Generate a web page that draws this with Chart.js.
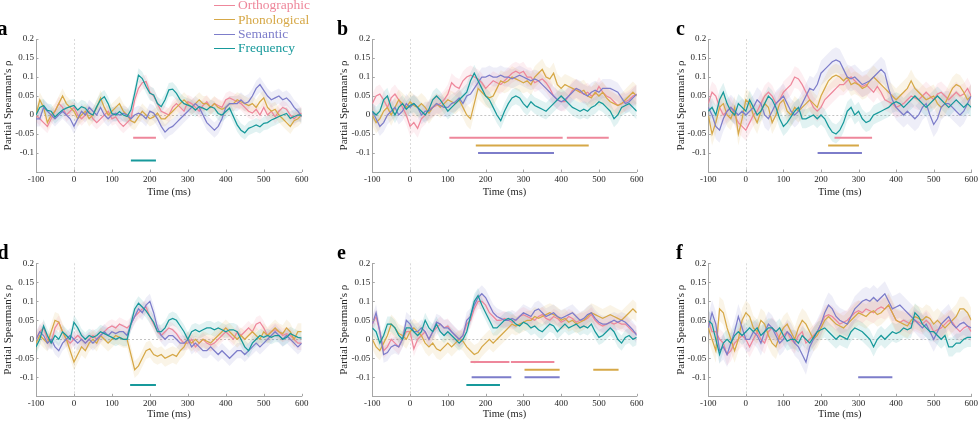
<!DOCTYPE html>
<html>
<head>
<meta charset="utf-8">
<script src="https://cdn.jsdelivr.net/npm/chart.js"></script>
<style>
  html,body{margin:0;padding:0;background:#fff;}
  #fig{position:relative;width:980px;height:422px;overflow:hidden;font-family:"Liberation Serif","DejaVu Serif",serif;}
  canvas{position:absolute;}
  .lbl{position:absolute;font-weight:bold;font-size:20px;line-height:20px;color:#000;}
  .legline{position:absolute;height:1.2px;width:21px;}
  .legtxt{position:absolute;font-size:13.5px;line-height:14px;white-space:nowrap;}
</style>
</head>
<body>
<div id="fig"></div>
<script>
// ---------------- DATA ----------------
const times = [-100,-90,-80,-70,-60,-50,-40,-30,-20,-10,
  0,10,20,30,40,50,60,70,80,90,
  100,110,120,130,140,150,160,170,180,190,
  200,210,220,230,240,250,260,270,280,290,
  300,310,320,330,340,350,360,370,380,390,
  400,410,420,430,440,450,460,470,480,490,
  500,510,520,530,540,550,560,570,580,590,
  600];
const seriesNames = ['Orthographic','Phonological','Semantic','Frequency'];
const seriesColors = ['#EE879B','#D6A847','#7D7DCA','#17999B'];
const xTicks = [-100,0,100,200,300,400,500,600];
const yTicks = [-0.1,-0.05,0,0.05,0.1,0.15,0.2];
const yTickLabels = ['-0.1','-0.05','0','0.05','0.1','0.15','0.2'];
const panelLetters = ['a','b','c','d','e','f'];

// Panel a
const aOrth = [0.0,-0.01,-0.02,-0.03,-0.01,0.01,0.03,0.02,0.0,0.01,
  0.02,0.0,-0.01,0.0,0.01,-0.01,-0.02,-0.01,0.0,0.01,
  -0.01,-0.005,-0.02,-0.03,-0.02,-0.01,0.04,0.07,0.085,0.088,
  0.06,0.05,0.03,0.01,0.005,0.0,0.02,0.03,0.02,0.01,
  0.035,0.03,0.02,0.01,0.025,0.035,0.02,0.03,0.025,0.02,
  0.04,0.045,0.04,0.035,0.03,0.02,0.01,0.005,0.015,0.0,
  0.02,0.0,0.01,-0.005,0.01,0.02,0.015,0.0,-0.01,0.0,
  0.005];
const aPhon = [0.0,0.04,0.02,-0.02,0.0,0.01,0.03,0.05,0.03,0.02,
  0.01,-0.01,0.0,0.01,-0.01,0.0,0.02,0.045,0.02,0.0,
  0.01,0.02,0.03,0.01,0.0,-0.015,-0.02,-0.005,0.01,0.0,
  -0.01,-0.005,0.005,-0.01,-0.01,0.0,0.01,0.02,0.03,0.04,
  0.03,0.02,0.03,0.04,0.03,0.03,0.02,0.03,0.02,0.015,
  0.02,0.03,0.03,0.04,0.035,0.03,0.025,0.03,0.02,0.035,
  0.045,0.02,0.01,0.015,0.0,-0.01,-0.02,-0.03,-0.015,-0.01,
  0.0];
const aSem = [-0.01,-0.01,0.02,0.01,0.0,-0.01,0.0,0.01,0.0,-0.01,
  -0.03,-0.01,0.01,0.0,0.02,0.01,0.0,0.02,0.0,-0.01,
  0.0,0.005,0.0,0.005,0.0,-0.01,0.0,0.005,0.0,-0.01,
  0.01,0.005,-0.01,-0.03,-0.045,-0.035,-0.03,-0.02,-0.01,0.0,
  0.01,0.02,0.03,0.02,0.0,-0.02,-0.03,-0.04,-0.03,-0.01,
  0.02,0.03,0.03,0.03,0.04,0.03,0.035,0.05,0.07,0.08,
  0.065,0.05,0.04,0.045,0.05,0.04,0.045,0.035,0.02,0.01,
  -0.005];
const aFreq = [0.0,0.02,0.025,0.012,0.01,-0.005,0.005,0.013,0.018,0.022,
  0.025,0.013,0.022,0.018,0.005,0.0,0.022,0.04,0.048,0.03,
  0.004,0.0,0.009,0.0,-0.004,0.013,0.057,0.105,0.096,0.075,
  0.057,0.053,0.03,0.022,0.04,0.066,0.068,0.057,0.04,0.03,
  0.026,0.022,0.013,0.022,0.018,0.013,0.022,0.018,0.004,0.0,
  0.009,0.018,-0.004,-0.026,-0.04,-0.047,-0.035,-0.031,-0.026,-0.031,
  -0.022,-0.02,-0.013,-0.009,-0.004,0.0,0.004,-0.009,-0.004,0.0,
  0.0];
const aCI = [0.018,0.02,0.02,0.018];
const aSig = [[0,156,216,-0.06],[3,150,216,-0.12]];

// Panel b
const bOrth = [0.03,0.05,0.055,0.04,0.02,0.045,0.055,0.04,0.02,0.0,
  -0.03,-0.02,-0.035,-0.01,0.0,0.015,0.02,0.025,0.03,0.04,
  0.055,0.085,0.075,0.07,0.09,0.1,0.105,0.1,0.095,0.085,
  0.07,0.08,0.09,0.085,0.08,0.09,0.1,0.11,0.115,0.11,
  0.115,0.1,0.1,0.085,0.09,0.095,0.085,0.07,0.05,0.04,
  0.035,0.035,0.05,0.065,0.07,0.06,0.055,0.06,0.05,0.055,
  0.075,0.06,0.05,0.045,0.035,0.025,0.03,0.035,0.04,0.05,
  0.055];
const bPhon = [0.0,-0.02,-0.01,0.01,0.02,0.0,0.02,0.04,0.03,0.02,
  0.035,0.025,0.02,0.03,0.02,0.005,0.02,0.03,0.02,0.03,
  0.04,0.035,0.03,0.04,0.02,0.0,-0.01,0.03,0.07,0.06,
  0.05,0.045,0.05,0.07,0.09,0.085,0.09,0.1,0.095,0.09,
  0.085,0.09,0.08,0.1,0.11,0.12,0.1,0.095,0.11,0.08,
  0.07,0.08,0.075,0.07,0.065,0.06,0.065,0.05,0.045,0.06,
  0.05,0.06,0.045,0.035,0.03,0.025,0.03,0.04,0.05,0.06,
  0.05];
const bSem = [0.01,-0.01,-0.03,-0.02,0.0,0.01,0.02,0.0,0.01,0.03,
  0.02,0.03,0.02,0.0,0.01,0.01,0.02,0.03,0.025,0.02,
  0.02,0.03,0.035,0.045,0.03,0.05,0.055,0.07,0.085,0.1,
  0.1,0.105,0.1,0.1,0.105,0.1,0.1,0.095,0.1,0.105,
  0.1,0.095,0.09,0.095,0.09,0.08,0.07,0.06,0.05,0.04,
  0.035,0.04,0.05,0.06,0.07,0.065,0.055,0.05,0.06,0.065,
  0.06,0.07,0.07,0.07,0.065,0.06,0.045,0.03,0.035,0.045,
  0.055];
const bFreq = [0.01,0.0,0.01,0.04,0.05,0.02,0.0,0.02,0.03,0.015,
  0.025,0.03,0.02,0.01,0.0,0.015,0.04,0.05,0.04,0.025,
  0.01,0.02,0.03,0.04,0.05,0.06,0.09,0.11,0.09,0.07,
  0.05,0.04,0.02,0.0,-0.015,0.01,0.03,0.045,0.05,0.045,
  0.03,0.02,0.035,0.025,0.02,0.015,0.01,0.02,0.03,0.04,
  0.05,0.04,0.03,0.02,0.015,0.01,0.015,0.01,0.02,0.025,
  0.035,0.03,0.02,0.01,-0.01,0.0,0.02,0.025,0.03,0.02,
  0.01];
const bCI = [0.025,0.028,0.025,0.022];
const bSig = [[0,104,404,-0.06],[0,415,526,-0.06],[1,174,473,-0.08],[2,180,381,-0.1]];

// Panel c
const cOrth = [0.03,0.06,0.05,0.02,0.0,0.01,0.02,0.0,-0.02,-0.03,
  -0.04,-0.02,0.0,0.01,0.03,0.05,0.06,0.05,0.03,0.04,
  0.06,0.07,0.08,0.1,0.095,0.08,0.06,0.04,0.02,0.01,
  0.02,0.04,0.05,0.06,0.07,0.08,0.08,0.09,0.1,0.09,
  0.08,0.075,0.08,0.07,0.06,0.075,0.06,0.04,0.035,0.03,
  0.02,0.025,0.03,0.04,0.05,0.045,0.04,0.05,0.06,0.05,
  0.04,0.055,0.06,0.05,0.04,0.05,0.06,0.05,0.055,0.07,
  0.05];
const cPhon = [0.0,-0.05,-0.02,0.02,0.03,0.0,-0.01,0.02,-0.05,-0.01,
  0.04,0.03,0.0,-0.02,0.01,0.03,0.02,-0.02,0.0,0.03,
  0.04,0.01,0.0,0.02,0.01,0.02,0.03,0.04,0.03,0.02,
  0.05,0.07,0.09,0.1,0.105,0.1,0.09,0.1,0.08,0.085,
  0.08,0.07,0.075,0.09,0.1,0.09,0.08,0.07,0.06,0.05,
  0.04,0.05,0.06,0.07,0.09,0.07,0.06,0.05,0.04,0.045,
  0.05,0.03,0.02,0.03,0.05,0.07,0.08,0.075,0.06,0.04,
  0.05];
const cSem = [0.02,0.0,-0.03,-0.04,-0.01,0.01,0.02,0.01,0.0,0.01,
  0.0,0.01,0.02,0.04,0.03,0.0,-0.01,0.01,0.03,0.04,
  0.05,0.03,0.01,0.0,0.01,0.03,0.05,0.07,0.065,0.08,
  0.11,0.12,0.13,0.14,0.145,0.14,0.12,0.1,0.095,0.1,
  0.09,0.08,0.085,0.09,0.1,0.11,0.12,0.11,0.07,0.04,
  0.02,0.01,0.0,0.01,0.0,-0.01,0.0,0.02,0.03,0.0,
  -0.025,-0.01,0.02,0.03,0.03,0.02,0.01,0.0,0.01,0.03,
  0.05];
const cFreq = [0.01,0.02,0.0,0.04,0.06,0.03,0.01,0.0,0.03,0.02,
  0.01,0.04,0.02,0.0,0.01,0.03,0.05,0.04,0.02,-0.01,
  -0.03,-0.02,-0.005,0.01,0.02,-0.01,-0.01,-0.005,0.0,-0.01,
  0.0,-0.01,-0.03,-0.045,-0.05,-0.04,-0.02,0.01,0.02,0.0,
  0.01,-0.01,-0.02,-0.015,0.0,0.005,0.01,0.015,0.02,0.03,
  0.035,0.03,0.02,0.03,0.04,0.05,0.04,0.03,0.02,0.03,
  0.04,0.05,0.04,0.03,0.02,0.03,0.04,0.03,0.02,0.03,
  0.02];
const cCI = [0.028,0.03,0.033,0.025];
const cSig = [[0,236,336,-0.06],[1,219,301,-0.08],[2,191,309,-0.1]];

// Panel d
const dOrth = [0.0,0.02,0.03,0.0,-0.01,0.03,0.045,0.02,0.0,-0.01,
  0.0,0.01,0.0,-0.01,0.0,0.01,0.0,0.01,0.02,0.03,
  0.035,0.03,0.04,0.035,0.03,0.04,0.06,0.07,0.08,0.085,
  0.06,0.04,0.02,0.01,0.02,0.03,0.025,0.015,0.0,-0.01,
  -0.01,0.0,-0.02,-0.01,0.0,-0.01,-0.015,-0.01,0.0,0.01,
  0.02,0.01,0.0,0.02,0.01,0.02,0.03,0.02,0.04,0.045,
  0.03,0.01,0.02,0.025,0.02,0.01,0.015,0.01,0.0,-0.01,
  -0.01];
const dPhon = [-0.01,0.01,0.0,-0.01,0.02,0.05,0.045,0.02,0.0,-0.03,
  -0.06,-0.04,-0.02,-0.03,-0.01,0.0,-0.01,0.01,0.0,-0.01,
  0.0,0.01,0.005,0.0,0.0,-0.04,-0.08,-0.07,-0.05,-0.03,
  -0.025,-0.04,-0.045,-0.04,-0.05,-0.045,-0.04,-0.045,-0.03,-0.02,
  0.0,-0.01,0.0,-0.01,0.0,-0.005,-0.01,0.0,0.01,0.02,
  0.03,0.02,0.01,0.0,0.01,0.0,0.01,0.02,0.01,0.0,
  0.02,0.01,0.02,0.03,0.02,0.015,0.03,0.02,0.0,0.02,
  0.02];
const dSem = [0.0,0.02,0.01,-0.01,0.0,-0.02,-0.03,-0.01,0.0,0.01,
  0.0,-0.01,0.0,-0.01,0.0,-0.01,0.0,0.01,0.02,0.01,
  0.02,0.015,0.02,0.02,0.01,0.04,0.06,0.08,0.07,0.09,
  0.1,0.07,0.03,0.01,0.0,0.01,0.01,0.0,-0.01,-0.01,
  0.0,-0.02,-0.01,-0.02,-0.03,-0.03,-0.02,-0.03,-0.04,-0.03,
  -0.04,-0.05,-0.04,-0.03,-0.03,-0.04,-0.03,-0.02,-0.01,-0.02,
  -0.01,0.0,0.01,0.02,0.01,0.0,0.01,0.0,-0.01,-0.02,
  -0.01];
const dFreq = [-0.02,0.0,0.035,0.01,-0.01,0.01,0.0,0.02,0.01,0.0,
  0.045,0.03,0.01,0.0,0.01,0.005,0.01,0.02,0.015,0.01,
  0.005,0.0,0.005,0.0,0.0,0.04,0.08,0.095,0.085,0.075,
  0.06,0.045,0.02,0.02,0.03,0.05,0.055,0.05,0.035,0.02,
  0.0,0.02,0.025,0.02,0.025,0.03,0.03,0.025,0.03,0.025,
  0.02,0.025,0.025,0.02,0.0,-0.02,-0.03,-0.01,0.0,0.01,
  0.005,0.01,0.005,0.01,0.01,0.0,0.005,0.015,0.01,0.005,
  0.003];
const dCI = [0.018,0.022,0.02,0.018];
const dSig = [[3,148,216,-0.12]];

// Panel e
const eOrth = [0.04,0.06,0.02,-0.03,-0.02,0.0,-0.01,-0.02,0.0,0.02,
  0.02,-0.025,0.0,0.01,0.02,0.0,0.02,0.03,0.04,0.03,
  0.035,0.02,0.01,0.0,0.01,0.04,0.05,0.08,0.1,0.1,
  0.09,0.07,0.06,0.05,0.05,0.055,0.05,0.045,0.05,0.06,
  0.065,0.06,0.055,0.05,0.06,0.065,0.055,0.05,0.06,0.055,
  0.045,0.05,0.06,0.055,0.045,0.05,0.05,0.055,0.065,0.05,
  0.04,0.035,0.04,0.045,0.04,0.045,0.04,0.04,0.03,0.02,
  0.015];
const ePhon = [0.0,-0.02,-0.03,-0.01,0.01,0.04,0.03,0.015,0.01,0.0,
  0.02,0.03,0.02,0.01,-0.01,-0.02,-0.01,-0.025,-0.03,-0.02,
  -0.01,-0.02,-0.01,0.0,-0.005,-0.02,-0.03,-0.04,-0.035,-0.02,
  -0.01,0.0,-0.01,0.0,0.01,0.02,0.03,0.04,0.035,0.04,
  0.045,0.05,0.05,0.06,0.055,0.06,0.065,0.07,0.065,0.06,
  0.05,0.055,0.045,0.05,0.04,0.045,0.05,0.06,0.07,0.065,
  0.06,0.055,0.06,0.065,0.06,0.055,0.05,0.06,0.07,0.08,
  0.07];
const eSem = [0.04,0.07,0.02,-0.04,-0.035,-0.02,-0.015,-0.02,0.0,0.05,
  0.04,0.02,0.02,0.03,0.02,0.0,0.02,0.045,0.04,0.03,
  0.03,0.02,0.01,0.0,0.01,0.05,0.06,0.09,0.11,0.12,
  0.11,0.09,0.07,0.06,0.055,0.05,0.05,0.055,0.05,0.06,
  0.07,0.065,0.06,0.075,0.08,0.07,0.06,0.065,0.07,0.06,
  0.055,0.06,0.065,0.07,0.06,0.05,0.055,0.065,0.07,0.055,
  0.045,0.04,0.04,0.045,0.05,0.045,0.05,0.045,0.035,0.025,
  0.01];
const eFreq = [0.03,0.02,-0.01,0.01,0.04,0.04,0.03,0.01,0.0,0.03,
  0.03,0.02,0.01,0.02,0.05,0.03,0.02,0.04,0.02,0.01,
  0.02,0.01,0.0,-0.01,0.0,0.02,0.06,0.1,0.115,0.09,
  0.07,0.05,0.03,0.03,0.04,0.05,0.055,0.05,0.04,0.035,
  0.045,0.04,0.03,0.035,0.025,0.02,0.03,0.04,0.035,0.02,
  0.03,0.04,0.03,0.035,0.04,0.03,0.035,0.03,0.04,0.02,
  0.005,0.01,0.02,0.03,0.02,0.0,-0.01,0.005,0.01,0.0,
  0.005];
const eCI = [0.02,0.025,0.022,0.02];
const eSig = [[0,160,263,-0.06],[0,267,382,-0.06],[1,303,396,-0.08],[1,485,552,-0.08],
  [2,163,268,-0.1],[2,303,396,-0.1],[3,149,238,-0.12]];

// Panel f
const fOrth = [0.05,0.02,0.02,0.0,-0.01,-0.04,-0.03,-0.01,0.0,0.01,
  0.0,-0.02,0.0,0.02,0.0,-0.01,0.02,0.03,0.02,0.0,
  0.01,0.02,0.0,-0.01,0.01,0.02,-0.01,0.0,0.01,0.02,
  0.04,0.06,0.065,0.06,0.05,0.04,0.045,0.05,0.06,0.07,
  0.075,0.07,0.08,0.075,0.07,0.08,0.085,0.08,0.09,0.07,
  0.05,0.045,0.05,0.045,0.04,0.05,0.045,0.04,0.05,0.04,
  0.02,0.025,0.03,0.04,0.05,0.045,0.03,0.02,0.03,0.035,
  0.02];
const fPhon = [0.03,0.0,-0.03,0.08,0.07,0.03,0.0,-0.03,0.0,0.05,
  0.07,0.06,0.03,0.02,0.05,0.04,0.01,-0.01,-0.02,0.01,
  0.03,0.04,0.02,0.0,0.03,0.05,0.04,0.02,0.0,0.01,
  0.03,0.05,0.06,0.05,0.04,0.035,0.03,0.04,0.05,0.06,
  0.07,0.065,0.06,0.07,0.075,0.065,0.07,0.08,0.09,0.07,
  0.05,0.045,0.04,0.035,0.05,0.06,0.055,0.05,0.06,0.055,
  0.04,0.05,0.04,0.03,0.04,0.05,0.06,0.08,0.08,0.07,
  0.05];
const fSem = [0.03,0.07,0.04,-0.03,-0.02,-0.04,-0.01,0.02,0.06,0.03,
  0.0,0.0,0.02,0.01,-0.01,0.02,0.04,0.03,0.01,-0.01,
  0.0,0.02,0.01,-0.01,-0.02,-0.04,-0.06,-0.02,0.0,0.02,
  0.04,0.07,0.09,0.08,0.06,0.05,0.045,0.04,0.06,0.08,
  0.09,0.1,0.105,0.1,0.11,0.1,0.11,0.12,0.1,0.08,
  0.085,0.09,0.08,0.07,0.06,0.05,0.04,0.03,0.04,0.02,
  0.0,0.02,0.04,0.05,0.06,0.04,0.03,0.04,0.045,0.035,
  0.03];
const fFreq = [0.05,0.04,0.0,-0.04,-0.01,0.0,-0.01,0.01,0.02,0.01,
  0.02,0.03,0.02,0.03,0.01,0.02,0.03,0.03,0.02,0.03,
  0.01,-0.005,0.0,0.0,-0.01,0.01,0.0,-0.01,0.005,0.02,
  0.025,0.03,0.02,0.01,0.0,0.01,0.005,0.0,0.02,0.03,
  0.025,0.02,0.01,0.0,-0.02,0.0,0.01,0.0,0.01,0.02,
  0.015,0.02,0.03,0.025,0.03,0.07,0.06,0.04,0.03,0.02,
  0.02,0.01,0.0,0.01,-0.02,-0.02,-0.01,-0.01,0.0,0.005,
  0.005];
const fCI = [0.028,0.032,0.033,0.025];
const fSig = [[2,299,390,-0.1]];

// ---------------- LAYOUT ----------------
const FONT = '"Liberation Serif","DejaVu Serif",serif';
const cols = [
  {left:0,   w:320, pl:1.8,  yw:34.2, pr:18.3, lx:-2.5},
  {left:320, w:330, pl:17.6, yw:34.7, pr:13.3, lx:17},
  {left:650, w:330, pl:24.1, yw:34.2, pr:6.7,  lx:26}
];
const rows = [
  {top:0,   h:205, pt:39,   pb:6.7, xh:26.3, ly:18.3},
  {top:215, h:207, pt:48.3, pb:1.7, xh:24,   ly:242.3}
];
const panelData = [
  [[aOrth,aPhon,aSem,aFreq], aCI, aSig],
  [[bOrth,bPhon,bSem,bFreq], bCI, bSig],
  [[cOrth,cPhon,cSem,cFreq], cCI, cSig],
  [[dOrth,dPhon,dSem,dFreq], dCI, dSig],
  [[eOrth,ePhon,eSem,eFreq], eCI, eSig],
  [[fOrth,fPhon,fSem,fFreq], fCI, fSig]
];

function rgba(hex, a){
  const n = parseInt(hex.slice(1),16);
  return `rgba(${(n>>16)&255},${(n>>8)&255},${n&255},${a})`;
}

const decor = {
  id:'decor',
  beforeDatasetsDraw(chart){
    const {ctx, chartArea:ca, scales:{x,y}} = chart;
    ctx.save();
    ctx.lineWidth = 1;
    ctx.setLineDash([2,2]);
    ctx.strokeStyle = '#c4c4c4';
    const y0 = Math.round(y.getPixelForValue(0)) + 0.5;
    ctx.beginPath(); ctx.moveTo(ca.left, y0); ctx.lineTo(ca.right, y0); ctx.stroke();
    ctx.strokeStyle = '#dadada';
    const x0 = Math.round(x.getPixelForValue(0)) + 0.5;
    ctx.beginPath(); ctx.moveTo(x0, ca.top); ctx.lineTo(x0, ca.bottom); ctx.stroke();
    ctx.restore();
  },
  afterDraw(chart){
    const {ctx, chartArea:ca, scales:{x,y}} = chart;
    ctx.save();
    ctx.lineWidth = 1;
    ctx.strokeStyle = '#a6a6a6';
    xTicks.forEach(v=>{
      const px = Math.round(x.getPixelForValue(v)) + 0.5;
      ctx.beginPath(); ctx.moveTo(px, ca.bottom); ctx.lineTo(px, ca.bottom - 2.5); ctx.stroke();
    });
    yTicks.forEach(v=>{
      const py = Math.round(y.getPixelForValue(v)) + 0.5;
      ctx.beginPath(); ctx.moveTo(ca.left, py); ctx.lineTo(ca.left + 2.5, py); ctx.stroke();
    });
    ctx.restore();
  }
};

function buildDatasets(vals, ci, sig){
  const ds = [];
  vals.forEach((arr,k)=>{
    const c = seriesColors[k];
    ds.push({data: times.map((t,i)=>({x:t, y:arr[i]+ci[k]})), borderWidth:0, borderColor:'rgba(0,0,0,0)',
      pointRadius:0, fill:false, order:20});
    ds.push({data: times.map((t,i)=>({x:t, y:arr[i]-ci[k]})), borderWidth:0, borderColor:'rgba(0,0,0,0)',
      pointRadius:0, fill:'-1', backgroundColor: rgba(c,0.13), order:20});
  });
  vals.forEach((arr,k)=>{
    ds.push({data: times.map((t,i)=>({x:t, y:arr[i]})), borderColor: seriesColors[k], borderWidth:1.25,
      pointRadius:0, fill:false, order:10-k});
  });
  sig.forEach(([k,s,e,yv])=>{
    ds.push({data:[{x:s,y:yv},{x:e,y:yv}], borderColor: seriesColors[k], borderWidth:2,
      borderCapStyle:'butt', pointRadius:0, fill:false, order:0});
  });
  return ds;
}

const fig = document.getElementById('fig');
panelData.forEach((pd, idx)=>{
  const col = cols[idx % 3], row = rows[Math.floor(idx/3)];
  const cv = document.createElement('canvas');
  cv.width = col.w; cv.height = row.h;
  cv.style.left = col.left + 'px'; cv.style.top = row.top + 'px';
  cv.style.width = col.w + 'px'; cv.style.height = row.h + 'px';
  fig.appendChild(cv);

  const lab = document.createElement('div');
  lab.className = 'lbl';
  lab.textContent = panelLetters[idx];
  lab.style.left = (col.left + col.lx) + 'px';
  lab.style.top = row.ly + 'px';
  fig.appendChild(lab);

  new Chart(cv.getContext('2d'), {
    type:'line',
    data:{datasets: buildDatasets(pd[0], pd[1], pd[2])},
    options:{
      responsive:false, animation:false, events:[],
      layout:{padding:{left:col.pl, right:col.pr, top:row.pt, bottom:row.pb}},
      plugins:{legend:{display:false}, tooltip:{enabled:false}},
      elements:{line:{tension:0}},
      scales:{
        x:{type:'linear', min:-100, max:600,
          afterBuildTicks: s=>{ s.ticks = xTicks.map(v=>({value:v})); },
          afterFit: s=>{ s.height = row.xh; },
          ticks:{font:{family:FONT, size:9}, color:'#262626', padding:2, maxRotation:0, autoSkip:false,
            callback: v=>String(v)},
          grid:{display:true, drawOnChartArea:false, drawTicks:false},
          border:{display:true, color:'#a6a6a6', width:1},
          title:{display:true, text:'Time (ms)', font:{family:FONT, size:10.5}, color:'#262626', padding:0}
        },
        y:{type:'linear', min:-0.15, max:0.2,
          afterBuildTicks: s=>{ s.ticks = yTicks.map(v=>({value:v})); },
          afterFit: s=>{ s.width = col.yw; },
          ticks:{font:{family:FONT, size:9}, color:'#262626', padding:2, autoSkip:false,
            callback: (v,i)=>yTickLabels[i]},
          grid:{display:true, drawOnChartArea:false, drawTicks:false},
          border:{display:true, color:'#a6a6a6', width:1},
          title:{display:true, text:"Partial Spearman's ρ", font:{family:FONT, size:11}, color:'#262626', padding:0}
        }
      }
    },
    plugins:[decor]
  });
});

// legend (figure level)
seriesNames.forEach((name,k)=>{
  const ly = 5.7 + 14.2*k;
  const ln = document.createElement('div');
  ln.className = 'legline';
  ln.style.left = '214px'; ln.style.top = Math.round(ly - 0.6) + 'px';
  ln.style.background = seriesColors[k];
  fig.appendChild(ln);
  const tx = document.createElement('div');
  tx.className = 'legtxt';
  tx.textContent = name;
  tx.style.color = seriesColors[k];
  tx.style.left = '238px'; tx.style.top = (ly + 4.3 - 11.56) + 'px';
  fig.appendChild(tx);
});
</script>
</body>
</html>
